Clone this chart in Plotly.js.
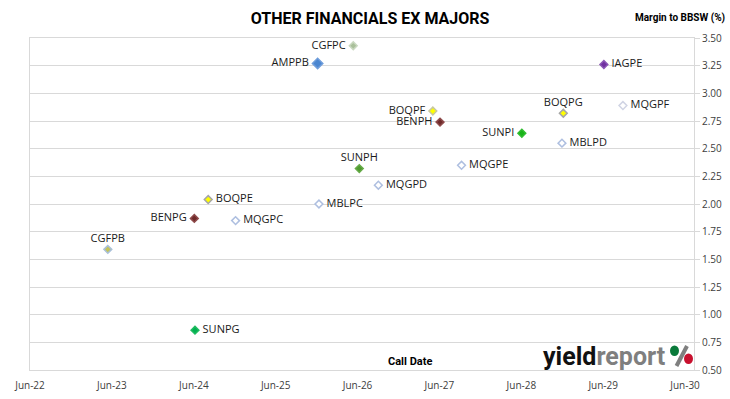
<!DOCTYPE html>
<html>
<head>
<meta charset="utf-8">
<script src="https://cdn.plot.ly/plotly-3.0.1.min.js"></script>
<style>
  html, body { margin: 0; padding: 0; background: #fff; }
  #chart { width: 730px; height: 399px; }
</style>
</head>
<body>
<div id="chart"></div>
<script>
// ---- data ----
const securities = ["CGFPC","AMPPB","IAGPE","MQGPF","BOQPG","BOQPF","BENPH","SUNPI","MBLPD",
                    "SUNPH","MQGPE","MQGPD","BOQPE","MBLPC","BENPG","MQGPC","CGFPB","SUNPG"];
const callDates = ["2026-05-13","2025-12-05","2029-06-04","2029-08-28","2028-12-05","2027-05-03",
                   "2027-06-04","2028-06-03","2028-11-29","2026-06-09","2027-09-08","2026-09-02",
                   "2024-08-04","2025-12-11","2024-06-03","2024-12-04","2023-05-14","2024-06-06"];
const margins = [3.43, 3.27, 3.26, 2.89, 2.82, 2.84, 2.74, 2.64, 2.55,
                 2.32, 2.35, 2.17, 2.04, 2.00, 1.87, 1.85, 1.59, 0.86];
const xTickVals = ["2022-06-01","2023-06-01","2024-06-01","2025-06-01","2026-06-01",
                   "2027-06-01","2028-06-01","2029-06-01","2030-06-01"];
const xTickText = ["Jun-22","Jun-23","Jun-24","Jun-25","Jun-26","Jun-27","Jun-28","Jun-29","Jun-30"];

// ---- styles ----
const styleBySecurity = {
  CGFPC: {fill:"#a9bf9a", line:"#c9d8c0", pos:"middle left", size:6},
  AMPPB: {fill:"#4a86d0", line:"#6f9ddb", pos:"middle left", size:8},
  IAGPE: {fill:"#7030a0", line:"#8a55b5", pos:"middle right", size:6},
  MQGPF: {fill:"#ffffff", line:"#d0d4e4", pos:"middle right", size:6},
  BOQPG: {fill:"#ffff00", line:"#a6a6a6", pos:"top center", size:6},
  BOQPF: {fill:"#ffff00", line:"#c8c8a0", pos:"middle left", size:6},
  BENPH: {fill:"#6e2a2a", line:"#8e4a4a", pos:"middle left", size:6},
  SUNPI: {fill:"#18b318", line:"#30bd30", pos:"middle left", size:6},
  MBLPD: {fill:"#ffffff", line:"#aebfe0", pos:"middle right", size:6},
  SUNPH: {fill:"#4f9a2f", line:"#66aa48", pos:"top center", size:6},
  MQGPE: {fill:"#ffffff", line:"#aebfe0", pos:"middle right", size:6},
  MQGPD: {fill:"#ffffff", line:"#aebfe0", pos:"middle right", size:6},
  BOQPE: {fill:"#ffff00", line:"#a6a6a6", pos:"middle right", size:6},
  MBLPC: {fill:"#ffffff", line:"#aebfe0", pos:"middle right", size:6},
  BENPG: {fill:"#6e2a2a", line:"#8e4a4a", pos:"middle left", size:6},
  MQGPC: {fill:"#ffffff", line:"#aebfe0", pos:"middle right", size:6},
  CGFPB: {fill:"#c3c35a", line:"#a9c0d9", pos:"top center", size:6},
  SUNPG: {fill:"#00b050", line:"#20bb60", pos:"middle right", size:6}
};

const trace = {
  type: "scatter",
  mode: "markers+text",
  x: callDates,
  y: margins,
  text: securities.map(s => "&nbsp;" + s + "&nbsp;"),
  textposition: securities.map(s => styleBySecurity[s].pos),
  textfont: {family: "Open Sans, sans-serif", size: 11, color: "#1a1a1a"},
  marker: {
    symbol: "diamond",
    opacity: 1,
    size: securities.map(s => styleBySecurity[s].size),
    color: securities.map(s => styleBySecurity[s].fill),
    line: {width: 1.5, color: securities.map(s => styleBySecurity[s].line)}
  },
  cliponaxis: false,
  hoverinfo: "x+y+text",
  showlegend: false
};

// page-pixel -> paper helpers (plot area 30..694 x, 38..370 y) for the logo only
const PL = 30, PW = 664, PB = 370, PH = 332;
const px = p => (p - PL) / PW;
const py = p => (PB - p) / PH;

const gridCol = "#d9d9d9";
const logoFont = "Roboto, sans-serif";
const layout = {
  width: 730, height: 399,
  margin: {l: 30, r: 36, t: 38, b: 29, pad: 0},
  paper_bgcolor: "#ffffff",
  plot_bgcolor: "#ffffff",
  font: {family: "Open Sans, sans-serif", size: 10, color: "#404040"},
  title: {
    text: "<b>OTHER FINANCIALS EX MAJORS</b>",
    font: {family: "Roboto, sans-serif", size: 16, color: "#000"},
    x: 0.507, xanchor: "center", y: 0.955, yanchor: "middle"
  },
  xaxis: {
    type: "date",
    range: ["2022-06-01", "2030-07-11"],
    tickmode: "array",
    tickvals: xTickVals,
    ticktext: xTickText,
    showgrid: false,
    zeroline: false,
    showline: true, linecolor: gridCol, linewidth: 1, mirror: true,
    ticks: "", ticklen: 0,
    ticklabelstandoff: 6,
    tickfont: {family: "Open Sans, sans-serif", size: 10, color: "#404040"}
  },
  yaxis: {
    side: "right",
    range: [0.5, 3.5],
    tick0: 0.5, dtick: 0.25,
    tickformat: ".2f",
    showgrid: true, gridcolor: gridCol, gridwidth: 1,
    zeroline: false,
    showline: true, linecolor: gridCol, linewidth: 1, mirror: true,
    ticks: "outside", ticklen: 5, tickcolor: gridCol,
    tickfont: {family: "Open Sans, sans-serif", size: 10, color: "#404040"}
  },
  annotations: [
    {text: "<b>Margin to BBSW (%)</b>", xref: "paper", yref: "paper", x: 1.05, y: 1.06,
     xanchor: "right", yanchor: "middle", showarrow: false,
     font: {family: "Roboto, sans-serif", size: 10, color: "#000"}},
    {text: "<b>Call Date</b>", xref: "paper", yref: "paper", x: 0.572, y: 0.025,
     xanchor: "center", yanchor: "middle", showarrow: false,
     font: {family: "Roboto, sans-serif", size: 11, color: "#000"}},
    {text: "<b><span style='color:#111'>yield</span><span style='color:#7f7f7f'>report</span></b>",
     xref: "paper", yref: "paper", x: px(541), y: py(356), xanchor: "left", yanchor: "middle",
     showarrow: false,
     font: {family: logoFont, size: 25}}
  ],
  shapes: [
    {type: "line", xref: "paper", yref: "paper", x0: px(676.5), y0: py(366), x1: px(687), y1: py(346),
     line: {color: "#7f7f7f", width: 4}},
    {type: "circle", xref: "paper", yref: "paper", x0: px(670), x1: px(679), y0: py(356), y1: py(345.5),
     fillcolor: "#0a7a3a", line: {width: 0}},
    {type: "circle", xref: "paper", yref: "paper", x0: px(684), x1: px(693), y0: py(364), y1: py(353.5),
     fillcolor: "#c8102e", line: {width: 0}}
  ]
};

Plotly.newPlot("chart", [trace], layout, {displayModeBar: false, staticPlot: true});
</script>
</body>
</html>
